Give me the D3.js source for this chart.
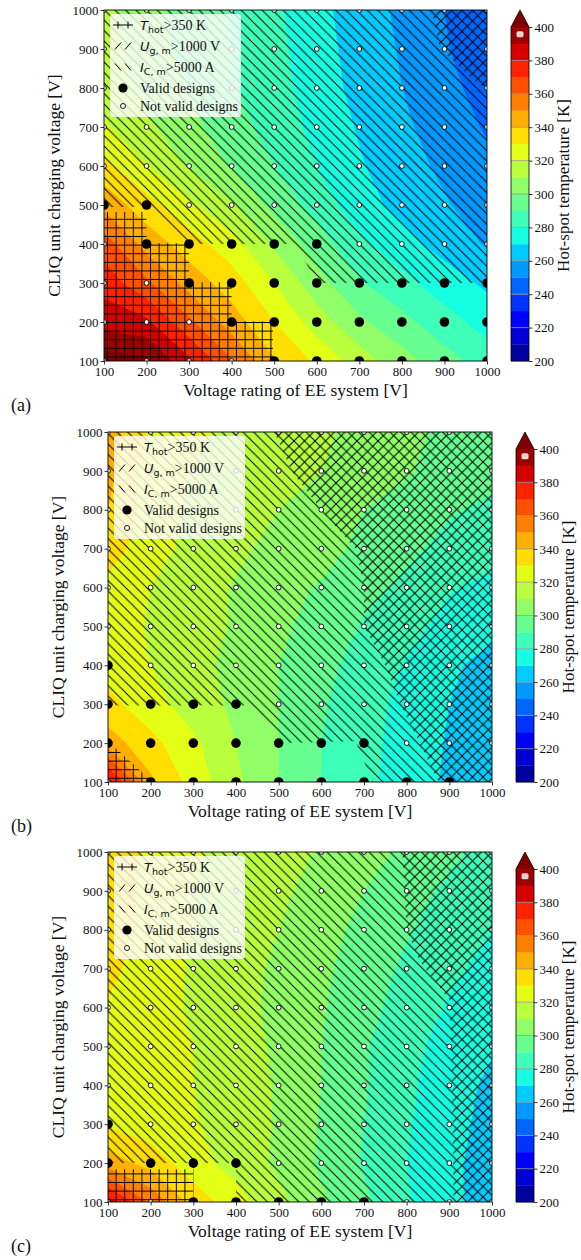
<!DOCTYPE html>
<html>
<head>
<meta charset="utf-8">
<script src="https://cdn.jsdelivr.net/npm/d3@7"></script>
<style>
  body { margin: 0; background: #fff; }
  svg { display: block; }
  text { font-family: "Liberation Serif", "Times New Roman", serif; fill: #111; }
</style>
</head>
<body>
<svg id="fig" width="581" height="1260"></svg>
<script>
const gridX = [100, 200, 300, 400, 500, 600, 700, 800, 900, 1000];
const gridY = [1000, 900, 800, 700, 600, 500, 400, 300, 200, 100];
const levels = d3.range(200, 401, 10);
const axisTicks = [100, 200, 300, 400, 500, 600, 700, 800, 900, 1000];
const cbTicks = [200, 220, 240, 260, 280, 300, 320, 340, 360, 380, 400];

// hot-spot temperature [K], rows y = 1000 ... 100, columns x = 100 ... 1000
const tempA = [
  [312, 303, 296, 289, 282, 273, 265, 258, 250, 241],
  [314, 305, 297, 290, 283, 274, 266, 259, 251, 243],
  [317, 307, 299, 291, 284, 275, 267, 260, 253, 246],
  [321, 312, 303, 294, 286, 277, 269, 262, 255, 249],
  [333, 320, 309, 299, 290, 280, 271, 264, 258, 252],
  [347, 334, 322, 311, 297, 286, 274, 267, 261, 255],
  [365, 346, 335, 324, 308, 295, 282, 274, 266, 259],
  [376, 362, 346, 335, 320, 304, 291, 283, 275, 268],
  [386, 382, 362, 345, 330, 315, 302, 293, 284, 276],
  [405, 402, 382, 361, 341, 328, 315, 304, 294, 285]
];
const tempB = [
  [345, 328, 322, 318, 315, 312, 306, 302, 298, 295],
  [343, 326, 320, 316, 313, 310, 305, 301, 296, 293],
  [340, 325, 318, 314, 310, 307, 300, 296, 291, 288],
  [335, 324, 317, 312, 307, 304, 297, 292, 287, 284],
  [327, 320, 315, 309, 303, 299, 293, 288, 281, 277],
  [325, 319, 314, 309, 302, 296, 289, 284, 276, 273],
  [326, 320, 313, 307, 300, 293, 286, 279, 272, 266],
  [333, 324, 315, 308, 300, 291, 284, 277, 270, 264],
  [345, 333, 322, 310, 300, 290, 283, 276, 269, 263],
  [385, 342, 326, 312, 300, 290, 282, 276, 268, 262]
];
const tempC = [
  [340, 327, 321, 317, 314, 309, 304, 298, 292, 287],
  [338, 326, 320, 316, 312, 306, 300, 294, 288, 283],
  [336, 325, 320, 315, 310, 304, 297, 291, 285, 280],
  [333, 324, 319, 314, 308, 302, 295, 288, 282, 277],
  [329, 323, 319, 314, 307, 301, 293, 286, 279, 274],
  [327, 323, 320, 315, 308, 300, 291, 283, 276, 271],
  [326, 323, 320, 315, 309, 300, 291, 282, 274, 268],
  [329, 324, 321, 315, 309, 299, 290, 281, 273, 267],
  [345, 336, 324, 316, 308, 298, 289, 280, 272, 266],
  [385, 358, 336, 324, 313, 302, 292, 281, 272, 266]
];

// 1 = valid design, 0 = not valid (same row order)
const validA = [
  [0, 0, 0, 0, 0, 0, 0, 0, 0, 0],
  [0, 0, 0, 0, 0, 0, 0, 0, 0, 0],
  [0, 0, 0, 0, 0, 0, 0, 0, 0, 0],
  [0, 0, 0, 0, 0, 0, 0, 0, 0, 0],
  [0, 0, 0, 0, 0, 0, 0, 0, 0, 0],
  [1, 1, 0, 0, 0, 0, 0, 0, 0, 0],
  [0, 1, 1, 1, 1, 1, 0, 0, 0, 0],
  [0, 0, 1, 1, 1, 1, 1, 1, 1, 1],
  [0, 0, 0, 1, 1, 1, 1, 1, 1, 1],
  [0, 0, 0, 0, 1, 1, 1, 1, 1, 1]
];
const validB = [
  [0, 0, 0, 0, 0, 0, 0, 0, 0, 0],
  [0, 0, 0, 0, 0, 0, 0, 0, 0, 0],
  [0, 0, 0, 0, 0, 0, 0, 0, 0, 0],
  [0, 0, 0, 0, 0, 0, 0, 0, 0, 0],
  [0, 0, 0, 0, 0, 0, 0, 0, 0, 0],
  [0, 0, 0, 0, 0, 0, 0, 0, 0, 0],
  [1, 0, 0, 0, 0, 0, 0, 0, 0, 0],
  [1, 1, 1, 1, 0, 0, 0, 0, 0, 0],
  [1, 1, 1, 1, 1, 1, 1, 0, 0, 0],
  [0, 1, 1, 1, 1, 1, 1, 1, 1, 0]
];
const validC = [
  [0, 0, 0, 0, 0, 0, 0, 0, 0, 0],
  [0, 0, 0, 0, 0, 0, 0, 0, 0, 0],
  [0, 0, 0, 0, 0, 0, 0, 0, 0, 0],
  [0, 0, 0, 0, 0, 0, 0, 0, 0, 0],
  [0, 0, 0, 0, 0, 0, 0, 0, 0, 0],
  [0, 0, 0, 0, 0, 0, 0, 0, 0, 0],
  [0, 0, 0, 0, 0, 0, 0, 0, 0, 0],
  [1, 0, 0, 0, 0, 0, 0, 0, 0, 0],
  [1, 1, 1, 1, 0, 0, 0, 0, 0, 0],
  [0, 0, 1, 1, 1, 1, 1, 0, 0, 0]
];

// constraint regions (data coords [V, V])
const hotA = [[100, 100], [100, 482], [200, 482], [200, 402], [300, 402], [300, 302], [400, 302], [400, 202], [497, 202], [497, 100]];
const ugA = [[870, 1000], [890, 900], [980, 810], [1000, 800], [1000, 1000]];
const icA = [[100, 1000], [100, 495], [200, 495], [290, 400], [550, 400], [600, 300], [1000, 300], [1000, 1000]];

const hotB = [[100, 100], [100, 205], [205, 100]];
const ugB = [[490, 1000], [530, 900], [600, 800], [680, 700], [700, 600], [700, 500], [750, 400], [785, 300], [830, 200], [875, 100], [1000, 100], [1000, 1000]];
const icB = [[100, 1000], [100, 297], [430, 297], [520, 200], [680, 205], [720, 100], [1000, 100], [1000, 1000]];

const hotC = [[100, 100], [100, 184], [300, 184], [300, 100]];
const ugC = [[790, 1000], [800, 800], [830, 720], [900, 620], [905, 500], [910, 100], [1000, 100], [1000, 1000]];
const icC = [[100, 1000], [100, 200], [400, 200], [400, 100], [1000, 100], [1000, 1000]];

const panels = [
  { tag: '(a)', temp: tempA, valid: validA, hot: hotA, ug: ugA, ic: icA, left: 104, top: 10, w: 383, h: 351, cbLeft: 511 },
  { tag: '(b)', temp: tempB, valid: validB, hot: hotB, ug: ugB, ic: icB, left: 108, top: 432, w: 384, h: 350, cbLeft: 516 },
  { tag: '(c)', temp: tempC, valid: validC, hot: hotC, ug: ugC, ic: icC, left: 108, top: 852, w: 384, h: 350, cbLeft: 516 }
];

// matplotlib jet
function jet(t) {
  const seg = (pts) => {
    for (let i = 1; i < pts.length; i++) {
      if (t <= pts[i][0]) {
        const [x0, y0] = pts[i - 1], [x1, y1] = pts[i];
        return y0 + (y1 - y0) * (t - x0) / (x1 - x0);
      }
    }
    return pts[pts.length - 1][1];
  };
  const r = seg([[0, 0], [0.35, 0], [0.66, 1], [0.89, 1], [1, 0.5]]);
  const g = seg([[0, 0], [0.125, 0], [0.375, 1], [0.64, 1], [0.91, 0], [1, 0]]);
  const b = seg([[0, 0.5], [0.11, 1], [0.34, 1], [0.65, 0], [1, 0]]);
  return d3.rgb(r * 255, g * 255, b * 255).formatHex();
}
const bandColor = (v) => v >= 400 ? jet(1) : jet((v + 5 - 200) / 200);

const svg = d3.select('#fig');
const defs = svg.append('defs');

// hatch patterns
const S = 10.5;
function hatchPattern(id, lines, size) {
  const p = defs.append('pattern').attr('id', id)
    .attr('patternUnits', 'userSpaceOnUse')
    .attr('width', size).attr('height', size);
  lines.forEach(l => p.append('line')
    .attr('x1', l[0]).attr('y1', l[1]).attr('x2', l[2]).attr('y2', l[3])
    .attr('stroke', '#000').attr('stroke-width', 1));
}
hatchPattern('hatch-back', [[-1, -1, S + 1, S + 1], [-S - 1, -1, 1, S + 1], [S - 1, -1, 2 * S + 1, S + 1]], S);
hatchPattern('hatch-fwd', [[-1, S + 1, S + 1, -1], [-S - 1, S + 1, 1, -1], [S - 1, S + 1, 2 * S + 1, -1]], S);
const P = 8.6;
hatchPattern('hatch-plus', [[0, P / 2, P, P / 2], [P / 2, 0, P / 2, P]], P);

const fmt = d3.format('d');

panels.forEach((pn, idx) => {
  const x = d3.scaleLinear().domain([100, 1000]).range([pn.left, pn.left + pn.w]);
  const y = d3.scaleLinear().domain([100, 1000]).range([pn.top + pn.h, pn.top]);
  const g = svg.append('g');

  const clipId = 'clip' + idx;
  defs.append('clipPath').attr('id', clipId).append('rect')
    .attr('x', pn.left).attr('y', pn.top).attr('width', pn.w).attr('height', pn.h);

  const plot = g.append('g').attr('clip-path', `url(#${clipId})`);

  // filled contours
  const n = gridX.length;
  const contours = d3.contours().size([n, n]).thresholds(levels)(pn.temp.flat());
  const proj = d3.geoTransform({
    point(px, py) {
      this.stream.point(x(gridX[0] + (px - 0.5) * 100), y(gridY[0] - (py - 0.5) * 100));
    }
  });
  const geo = d3.geoPath(proj);
  plot.selectAll('path.band').data(contours).join('path')
    .attr('class', 'band')
    .attr('d', geo)
    .attr('fill', d => bandColor(d.value))
    .attr('stroke', d => bandColor(d.value))
    .attr('stroke-width', 0.3);

  // hatched constraint regions
  const line = d3.line().x(d => x(d[0])).y(d => y(d[1]));
  [[pn.ic, 'hatch-back'], [pn.ug, 'hatch-fwd'], [pn.hot, 'hatch-plus']].forEach(([poly, pat]) => {
    plot.append('path').attr('d', line(poly) + 'Z').attr('fill', `url(#${pat})`);
  });

  // design points
  const pts = [];
  gridY.forEach((yv, j) => gridX.forEach((xv, i) => pts.push({ x: xv, y: yv, ok: pn.valid[j][i] })));
  plot.selectAll('circle.pt').data(pts).join('circle')
    .attr('class', 'pt')
    .attr('cx', d => x(d.x)).attr('cy', d => y(d.y))
    .attr('r', d => d.ok ? 4.8 : 2.4)
    .attr('fill', d => d.ok ? '#000' : '#fff')
    .attr('stroke', '#000').attr('stroke-width', d => d.ok ? 0 : 0.9);

  // axes
  const xAxis = g.append('g').attr('transform', `translate(0,${pn.top + pn.h})`)
    .call(d3.axisBottom(x).tickValues(axisTicks).tickFormat(fmt).tickSize(3.5).tickPadding(2));
  const yAxis = g.append('g').attr('transform', `translate(${pn.left},0)`)
    .call(d3.axisLeft(y).tickValues(axisTicks).tickFormat(fmt).tickSize(3.5).tickPadding(2));
  [xAxis, yAxis].forEach(a => {
    a.select('.domain').remove();
    a.selectAll('text').attr('font-size', 13).attr('fill', '#111');
    a.selectAll('line').attr('stroke', '#000').attr('stroke-width', 0.8);
  });
  g.append('rect').attr('x', pn.left).attr('y', pn.top).attr('width', pn.w).attr('height', pn.h)
    .attr('fill', 'none').attr('stroke', '#000').attr('stroke-width', 0.9);

  g.append('text').attr('x', pn.left + pn.w / 2).attr('y', pn.top + pn.h + 35)
    .attr('text-anchor', 'middle').attr('font-size', 17.5).text('Voltage rating of EE system [V]');
  g.append('text').attr('transform', `translate(${pn.left - 44},${pn.top + pn.h / 2}) rotate(-90)`)
    .attr('text-anchor', 'middle').attr('font-size', 17.5).text('CLIQ unit charging voltage [V]');
  g.append('text').attr('x', 11).attr('y', pn.top + pn.h + 50)
    .attr('font-size', 18).text(pn.tag);

  // legend
  const lx = pn.left + 6, ly = pn.top + 4;
  const lg = g.append('g');
  lg.append('rect').attr('x', lx).attr('y', ly).attr('width', 131).attr('height', 103).attr('rx', 3)
    .attr('fill', '#fff').attr('fill-opacity', 0.8);
  const rows = [11, 32, 53, 74, 92];
  const hx = lx + 3, hw = 20;
  const h0 = ly + rows[0];
  lg.append('path').attr('d', `M${hx},${h0}H${hx + hw}M${hx + 5},${h0 - 3.5}V${h0 + 3.5}M${hx + 15},${h0 - 3.5}V${h0 + 3.5}`)
    .attr('stroke', '#000').attr('stroke-width', 1).attr('fill', 'none');
  const h1 = ly + rows[1];
  lg.append('path').attr('d', `M${hx + 2},${h1 + 3.5}L${hx + 8},${h1 - 3.5}M${hx + 12},${h1 + 3.5}L${hx + 18},${h1 - 3.5}`)
    .attr('stroke', '#000').attr('stroke-width', 1).attr('fill', 'none');
  const h2 = ly + rows[2];
  lg.append('path').attr('d', `M${hx + 2},${h2 - 3.5}L${hx + 8},${h2 + 3.5}M${hx + 12},${h2 - 3.5}L${hx + 18},${h2 + 3.5}`)
    .attr('stroke', '#000').attr('stroke-width', 1).attr('fill', 'none');
  lg.append('circle').attr('cx', hx + hw / 2).attr('cy', ly + rows[3]).attr('r', 4.6).attr('fill', '#000');
  lg.append('circle').attr('cx', hx + hw / 2).attr('cy', ly + rows[4]).attr('r', 2.5)
    .attr('fill', '#fff').attr('stroke', '#000').attr('stroke-width', 0.9);

  const tx = lx + 30;
  const mathText = (cy, sym, sub, rest) => {
    const t = lg.append('text').attr('x', tx).attr('y', cy + 5).attr('font-size', 14);
    t.append('tspan').attr('font-family', '"DejaVu Sans", sans-serif').attr('font-style', 'italic').attr('font-size', 13).text(sym);
    t.append('tspan').attr('font-family', '"DejaVu Sans", sans-serif').attr('font-size', 9.5).attr('dy', 3).text(sub);
    t.append('tspan').attr('dy', -3).text(rest);
  };
  mathText(ly + rows[0], 'T', 'hot', '>350 K');
  mathText(ly + rows[1], 'U', 'g, m', '>1000 V');
  mathText(ly + rows[2], 'I', 'C, m', '>5000 A');
  lg.append('text').attr('x', tx).attr('y', ly + rows[3] + 5).attr('font-size', 14).text('Valid designs');
  lg.append('text').attr('x', tx).attr('y', ly + rows[4] + 5).attr('font-size', 14).text('Not valid designs');

  // colorbar
  const cbW = 18;
  const cbTop = pn.top + 17;
  const cy = d3.scaleLinear().domain([200, 400]).range([pn.top + pn.h, cbTop]);
  const cb = g.append('g');
  cb.selectAll('rect.lvl').data(levels.slice(0, -1)).join('rect')
    .attr('class', 'lvl')
    .attr('x', pn.cbLeft).attr('width', cbW)
    .attr('y', d => cy(d + 10)).attr('height', d => cy(d) - cy(d + 10) + 0.3)
    .attr('fill', d => bandColor(d));
  cb.append('path')
    .attr('d', `M${pn.cbLeft},${cbTop}L${pn.cbLeft + cbW / 2},${pn.top}L${pn.cbLeft + cbW},${cbTop}Z`)
    .attr('fill', bandColor(400));
  cb.selectAll('line.sep').data(cbTicks.slice(1, -1)).join('line')
    .attr('class', 'sep')
    .attr('x1', pn.cbLeft).attr('x2', pn.cbLeft + cbW)
    .attr('y1', d => cy(d)).attr('y2', d => cy(d))
    .attr('stroke', '#9a9a9a').attr('stroke-width', 0.8);
  cb.append('rect').attr('x', pn.cbLeft + 5.5).attr('y', cy(397.5)).attr('width', 7).attr('height', 6).attr('rx', 1.5)
    .attr('fill', '#f0d2d2');
  cb.append('path')
    .attr('d', `M${pn.cbLeft},${pn.top + pn.h}V${cbTop}L${pn.cbLeft + cbW / 2},${pn.top}L${pn.cbLeft + cbW},${cbTop}V${pn.top + pn.h}Z`)
    .attr('fill', 'none').attr('stroke', '#000').attr('stroke-width', 0.8);
  const cAxis = cb.append('g').attr('transform', `translate(${pn.cbLeft + cbW},0)`)
    .call(d3.axisRight(cy).tickValues(cbTicks).tickFormat(fmt).tickSize(3.5).tickPadding(2));
  cAxis.select('.domain').remove();
  cAxis.selectAll('text').attr('font-size', 13).attr('fill', '#111');
  cAxis.selectAll('line').attr('stroke', '#000').attr('stroke-width', 0.8);
  cb.append('text')
    .attr('transform', `translate(${pn.cbLeft + cbW + 40},${pn.top + pn.h / 2}) rotate(-90)`)
    .attr('text-anchor', 'middle').attr('font-size', 17).text('Hot-spot temperature [K]');
});
</script>
</body>
</html>
